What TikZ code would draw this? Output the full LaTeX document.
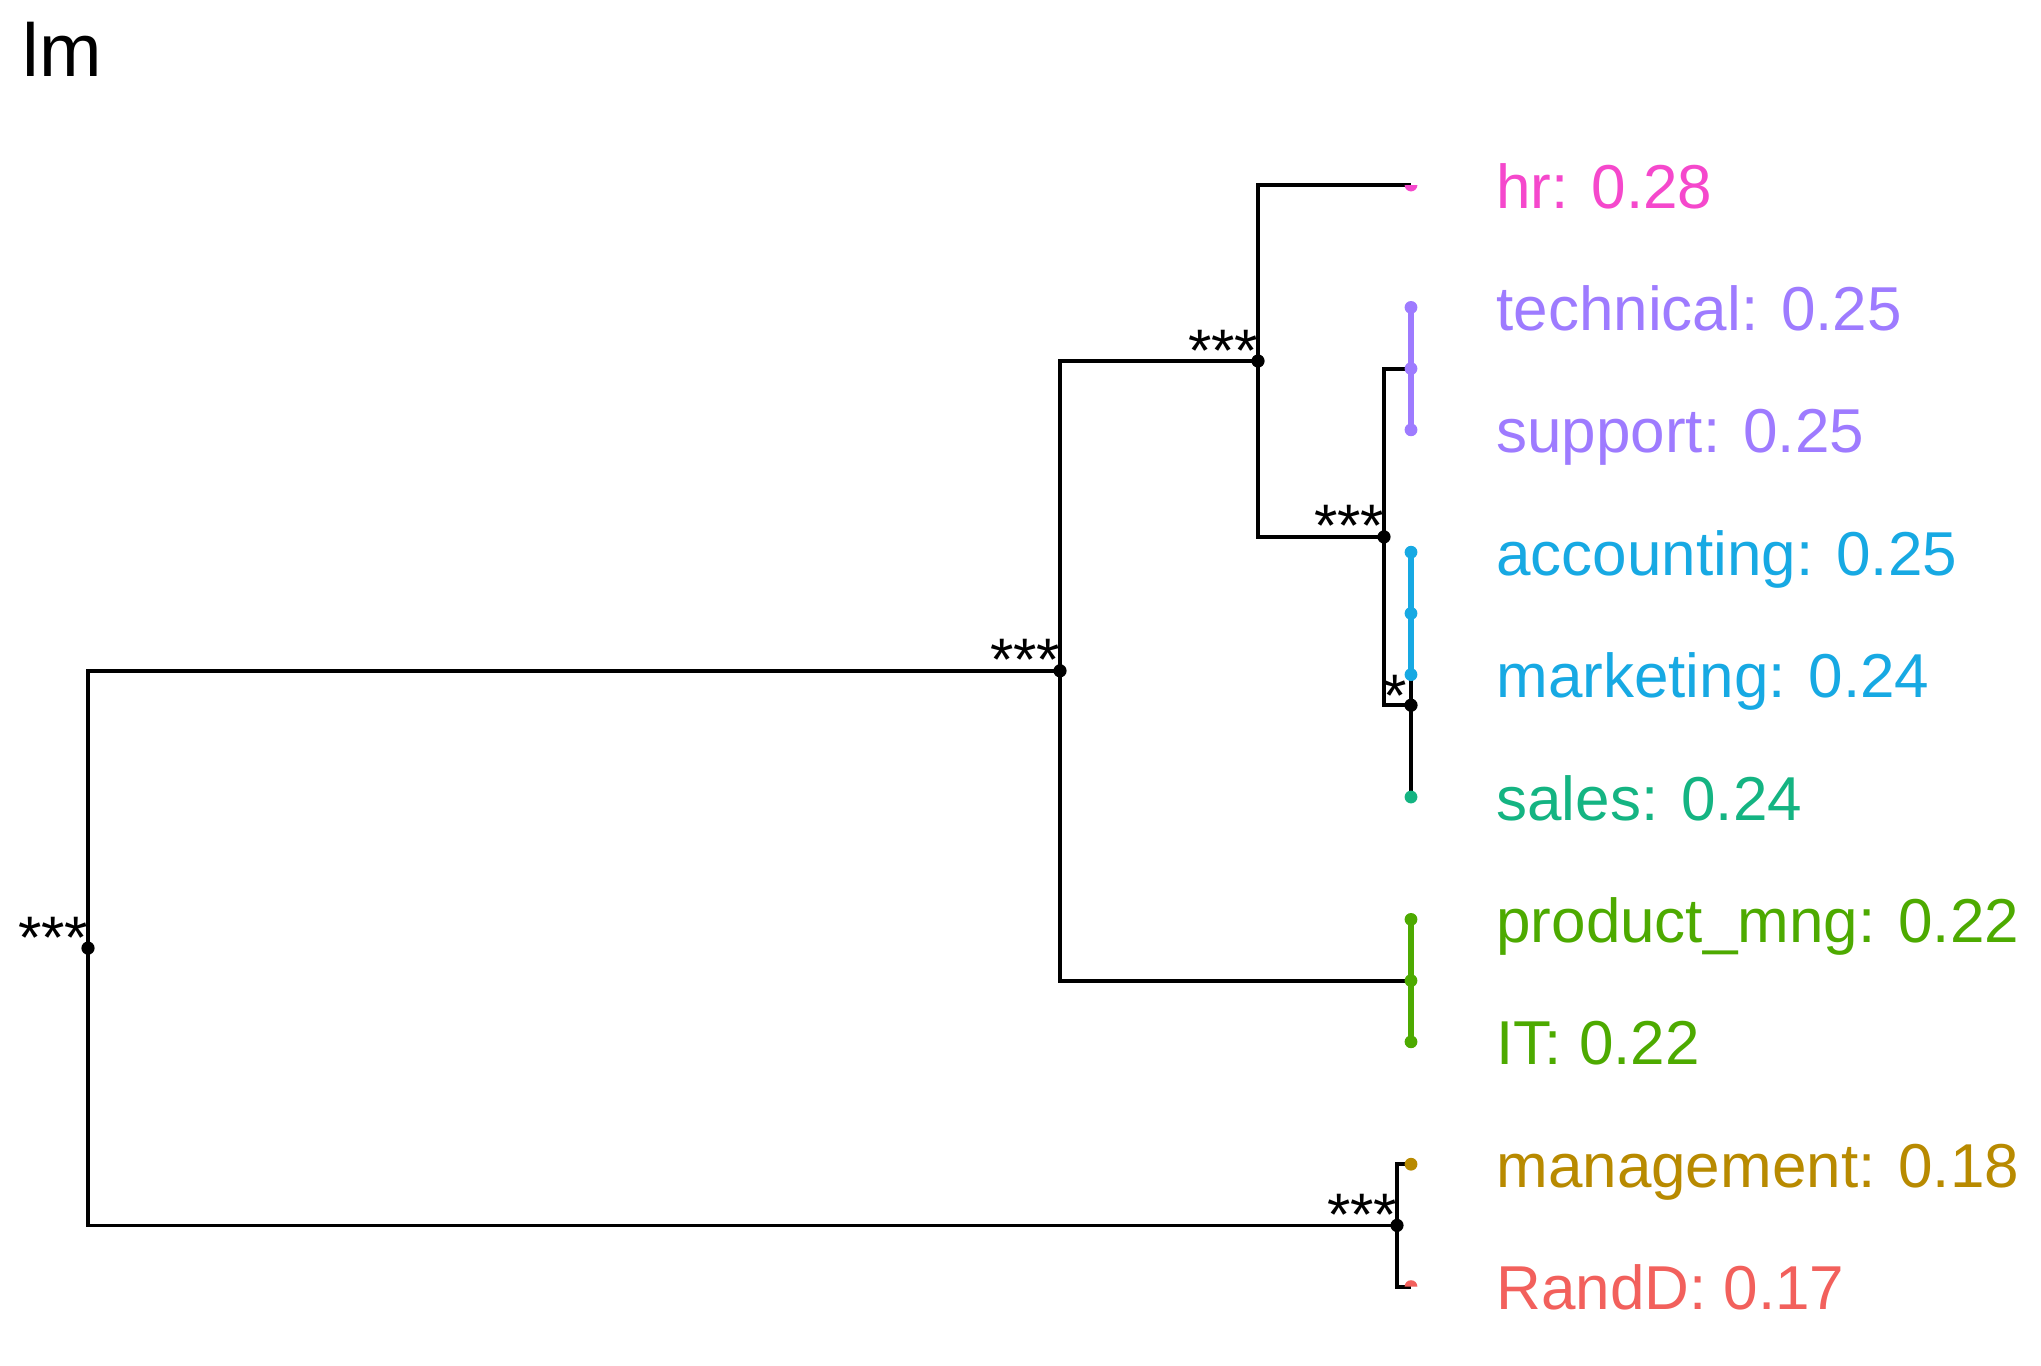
\documentclass[tikz,border=0pt]{standalone}
\usepackage{fontspec}
\setmainfont{Liberation Sans}
\definecolor{cpink}{HTML}{F548CC}
\definecolor{cpurple}{HTML}{9E7BFF}
\definecolor{cblue}{HTML}{17A9E3}
\definecolor{cteal}{HTML}{14B482}
\definecolor{cgreen}{HTML}{4DAA00}
\definecolor{cgold}{HTML}{B88A00}
\definecolor{cred}{HTML}{F2605C}
\begin{document}
\begin{tikzpicture}[x=0.5pt,y=-0.5pt,
  branch/.style={draw=black,line width=1.9pt,line join=miter},
  bar/.style={line width=3pt},
  ndot/.style={fill=black},
  lab/.style={anchor=base west,inner sep=0pt,font=\fontsize{31}{36}\selectfont},
  starsty/.style={anchor=base east,inner sep=0pt,font=\fontsize{30}{34}\selectfont,xshift=0.3pt,yshift=-5pt}]
\useasboundingbox (0,0) rectangle (2041,1366);
\fill[white] (0,0) rectangle (2041,1366);
% leaves
\coordinate (hr)   at (1411,185);
\coordinate (tech) at (1411,307.4);
\coordinate (supp) at (1411,429.8);
\coordinate (acc)  at (1411,552.2);
\coordinate (mkt)  at (1411,674.6);
\coordinate (sales) at (1411,797);
\coordinate (prod) at (1411,919.4);
\coordinate (it)   at (1411,1041.8);
\coordinate (mng)  at (1411,1164.2);
\coordinate (rnd)  at (1411,1286.6);
% group mid points
\coordinate (TS) at (1411,368.6);
\coordinate (AM) at (1411,613.4);
\coordinate (PI) at (1411,980.6);
% internal nodes
\coordinate (D) at (1411,705.2);
\coordinate (C) at (1384,536.9);
\coordinate (B) at (1258,361);
\coordinate (A) at (1060,670.8);
\coordinate (E) at (1397,1225.4);
\coordinate (root) at (88,948.1);
% branches
\draw[branch] (A) -| (root) |- (E);
\draw[branch] (B) -| (A) |- (PI);
\draw[branch] (hr) -| (B) |- (C);
\draw[branch] (TS) -| (C) |- (D);
\draw[branch] (AM) -- (sales);
\draw[branch] (mng) -| (E) |- (rnd);
% coloured groups
\draw[bar,cpurple] (tech) -- (supp);
\foreach \p in {tech,TS,supp} \fill[cpurple] (\p) circle (3.2pt);
\draw[bar,cblue] (acc) -- (mkt);
\foreach \p in {acc,AM,mkt} \fill[cblue] (\p) circle (3.2pt);
\draw[bar,cgreen] (prod) -- (it);
\foreach \p in {prod,PI,it} \fill[cgreen] (\p) circle (3.2pt);
\fill[cteal] (sales) circle (3.2pt);
\fill[cgold] (mng) circle (3.2pt);
\fill[cpink] (hr) ++(-6.4,0) arc[start angle=180,end angle=360,radius=3.2pt] -- cycle;
\fill[cred] (rnd) ++(-6.4,0) arc[start angle=180,end angle=0,radius=3.2pt] -- cycle;
% internal dots
\foreach \p in {root,A,B,C,D,E} \fill[ndot] (\p) circle (3.3pt);
% significance labels
\node[starsty] (sroot) at (root) {***};
\node[starsty] (sA) at (A) {***};
\node[starsty] (sB) at (B) {***};
\node[starsty] (sC) at (C) {***};
\node[starsty,xshift=-2pt,yshift=-0.5pt] (sD) at (D) {*};
\node[starsty] (sE) at (E) {***};
% leaf labels
\node[lab,text=cpink]   (lhr)   at (1496,208)    {hr: 0.28};
\node[lab,text=cpurple] (ltech) at (1496,330.4)  {technical: 0.25};
\node[lab,text=cpurple] (lsupp) at (1496,452.8)  {support: 0.25};
\node[lab,text=cblue]   (lacc)  at (1496,575.2)  {accounting: 0.25};
\node[lab,text=cblue]   (lmkt)  at (1496,697.6)  {marketing: 0.24};
\node[lab,text=cteal]   (lsales) at (1496,820)   {sales: 0.24};
\node[lab,text=cgreen]  (lprod) at (1496,942.4)  {product\_mng: 0.22};
\node[lab,text=cgreen]  (lit)   at (1496,1064.8) {IT: 0.22};
\node[lab,text=cgold]   (lmng)  at (1496,1187.2) {management: 0.18};
\node[lab,text=cred]    (lrnd)  at (1496,1309.6) {RandD: 0.17};
% title
\node[anchor=base west,inner sep=0pt,font=\fontsize{37.5}{42}\selectfont] (title) at (22,76) {lm};
\end{tikzpicture}
\end{document}
